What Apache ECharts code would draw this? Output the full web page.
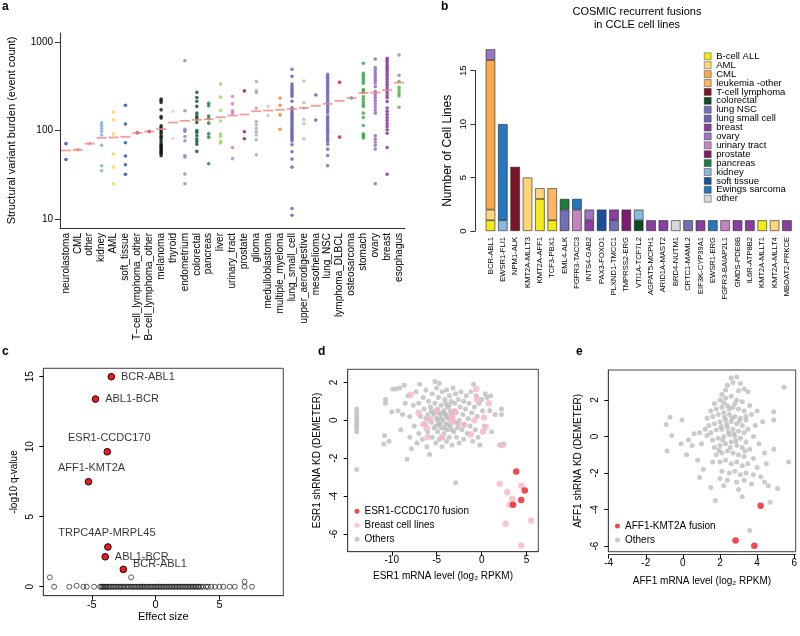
<!DOCTYPE html>
<html><head><meta charset="utf-8">
<script src="https://cdn.jsdelivr.net/npm/echarts@6/dist/echarts.min.js"></script>
<style>html,body{margin:0;padding:0;background:#fff}#wrap{position:relative;width:800px;height:636px}.layer{position:absolute;left:0;top:0;width:800px;height:636px}</style>
</head><body><div id="wrap"><div class="layer" id="pa"></div><div class="layer" id="pb"></div><div class="layer" id="pc"></div><div class="layer" id="pc2"></div><div class="layer" id="pd"></div><div class="layer" id="pe"></div></div>
<script>
const FONT = '"Liberation Sans", Arial, Helvetica, sans-serif';

// ---------- Panel a data ----------
const tissues = ['neurolastoma','CML','other','kidney','AML','soft_tissue','T\u2212cell_lymphoma_other','B\u2212cell_lymphoma_other','melanoma','thyroid','endometrium','colorectal','pancreas','liver','urinary_tract','prostate','glioma','medulloblastoma','multiple_myeloma','lung_small_cell','upper_aerodigestive','mesothelioma','lung_NSC','lymphoma_DLBCL','osteosarcoma','stomach','ovary','breast','esophagus'];
const svNeuro = [71,47];
const svCML = [60.5];
const svOther = [71];
const svKidney = [122,114,106,98,89,68,40,35];
const svAML = [161,132,91,54,38.5,25];
const svSoft = [193,118,72.6,51.4,41,31.9];
const svTcell = [94];
const svBcell = [97.4];
const svMelanoma = [227,218,207,171,144,138,113,108,102,97,93,87,84,80,75,70.8,68,66,64,61.7,60,58,56,54.6,51.8];
const svThyroid = [165,81];
const svEndo = [615,167,103,100,97.4,85.6,76.4,51.8,50,32.2,25];
const svColorectal = [270,236,214,187,157,146,140,134,123,100,95,87,80,75,70,58];
const svPancreas = [203,190,146,136,121,91.7,84,42];
const svLiver = [336,238,168,128,91,85.6,75,72];
const svUrinary = [242,200,167,157,64,48];
const svProstate = [280,96.6,80.5];
const svGlioma = [357,282,268,179,126,116,106,97.4,89,78.5,53];
const svMedullo = [187,147.5];
const svMyeloma = [233,193,150,103];
const svLungSmall = [492,410,335,315,298,282,268,255,242,214,180,170,160,152,145,138,132,126,120,114,108,103,98,93,88,84,80,76,69,57.4,47.5,38.5,13.1,11];
const svUpperAero = [363,207,179,133,119,80.5];
const svMeso = [252,131];
const svLungNSC = [431,410,390,370,350,332,315,298,282,268,255,242,230,218,207,196,186,176,167,158,145,138,132,126,120,114,108,103,98,93,88,83,79,75,70,61.5,52,40];
const svDLBCL = [351,84];
const svOsteo = [233];
const svStomach = [574,443,420,400,380,360,342,290,280,270,242,225,210,198,187,157,140,114,92,88,85,82];
const svOvary = [643,514,480,450,420,395,370,345,313,276,255,236,218,200,185,170,157,87,80,74,68,61.6,25];
const svBreast = [655,620,585,550,520,490,460,432,405,380,355,332,310,290,270,252,235,212,179,165,152,140,130,120,111,102,93,64,32];
const svEsoph = [713,421,357,308,290,272,258,246,183];
const svBurden = [svNeuro,svCML,svOther,svKidney,svAML,svSoft,svTcell,svBcell,svMelanoma,svThyroid,svEndo,svColorectal,svPancreas,svLiver,svUrinary,svProstate,svGlioma,svMedullo,svMyeloma,svLungSmall,svUpperAero,svMeso,svLungNSC,svDLBCL,svOsteo,svStomach,svOvary,svBreast,svEsoph];
const medianBurden = [59.4,60.5,71,82.6,83.4,84.8,94,97.4,103.5,123,128.5,132,134,141,147.6,151.6,165,168,171,175.5,180,190,200,216,233,266,268,287,347];
const burdenTicks = [10,100,1000];

// ---------- Panel b data ----------
const fusions = ['BCR-ABL1','EWSR1-FLI1','NPM1-ALK','KMT2A-MLLT3','KMT2A-AFF1','TCF3-PBX1','EML4-ALK','FGFR3-TACC3','INTS4-GAB2','PAX3-FOXO1','PLXND1-TMCC1','TMPRSS2-ERG','VTI1A-TCF7L2','AGPAT5-MCPH1','ARID1A-MAST2','BRD4-NUTM1','CRTC1-MAML2','EIF3K-CYP39A1','EWSR1-ERG','FGFR3-BAIAP2L1','GMDS-PDE8B','IL6R-ATP8B2','KMT2A-MLLT1','KMT2A-MLLT4','MBOAT2-PRKCE'];
const fusionTissues = ['B-cell ALL','AML','CML','leukemia -other','T-cell lymphoma','colorectal','lung NSC','lung small cell','breast','ovary','urinary tract','prostate','pancreas','kidney','soft tissue','Ewings sarcoma','other'];
const fusionComposition = [
  [['B-cell ALL',1],['AML',1],['CML',14],['ovary',1]],
  [['kidney',1],['Ewings sarcoma',9]],
  [['T-cell lymphoma',6]],
  [['AML',5]],
  [['B-cell ALL',3],['AML',1]],
  [['B-cell ALL',1],['leukemia -other',3]],
  [['lung NSC',2],['pancreas',1]],
  [['urinary tract',2],['Ewings sarcoma',1]],
  [['breast',1],['ovary',1]],
  [['soft tissue',2]],
  [['lung NSC',1],['breast',1]],
  [['prostate',2]],
  [['colorectal',1],['kidney',1]],
  [['breast',1]],
  [['breast',1]],
  [['other',1]],
  [['lung NSC',1]],
  [['breast',1]],
  [['Ewings sarcoma',1]],
  [['urinary tract',1]],
  [['breast',1]],
  [['breast',1]],
  [['B-cell ALL',1]],
  [['AML',1]],
  [['breast',1]]
];
const countTicks = [0,5,10,15];

// ---------- Panel c data ----------
const cFusionNames = ['BCR-ABL1','ABL1-BCR','ESR1-CCDC170','AFF1-KMT2A','TRPC4AP-MRPL45','ABL1-BCR','BCR-ABL1'];
const cFusionEffect = [-3.47,-4.71,-3.79,-5.26,-3.74,-3.95,-2.53];
const cFusionQ = [15.0,13.4,9.64,7.5,2.84,2.14,1.24];
const cOtherEffect = [-8.29,-7.95,-6.76,-6.19,-5.66,-5.4,-4.82,-4.35,-4.25,-4.15,-4.05,-3.95,-3.85,-3.75,-3.6,-3.5,-3.35,-3.25,-3.1,-3.0,-2.85,-2.75,-2.6,-2.5,-2.35,-2.2,-2.1,-1.95,-1.92,-1.85,-1.7,-1.6,-1.45,-1.35,-1.2,-1.1,-0.95,-0.85,-0.7,-0.6,-0.45,-0.35,-0.2,-0.1,0.05,0.15,0.3,0.4,0.55,0.65,0.8,0.9,1.05,1.15,1.3,1.4,1.55,1.65,1.8,1.9,2.05,2.15,2.3,2.4,2.55,2.65,2.8,2.9,3.05,3.15,3.3,3.4,3.55,3.7,3.95,4.1,4.35,4.65,5.0,5.3,5.8,6.2,6.97,6.97,7.55];
const cOtherQ = [0.67,0,0,0.07,0,0,0,0,0,0,0,0,0,0,0,0,0,0,0,0,0,0,0,0,0,0,0,0,0.67,0,0,0,0,0,0,0,0,0,0,0,0,0,0,0,0,0,0,0,0,0,0,0,0,0,0,0,0,0,0,0,0,0,0,0,0,0,0,0,0,0,0,0,0,0,0,0,0,0,0,0,0,0,0.36,0,0];

// ---------- Panel d data ----------
const dFusion = [[3.85,-2.7],[4.8,-3.7],[4.4,-4.2],[3.5,-4.45]];
const dBreast = [[-7.9,1.35],[-0.6,1.65],[-0.5,1.1],[0.8,0.9],[-7.0,0.4],[-5.0,0.5],[-3.0,0.45],[-3.3,0.2],[-5.7,0.05],[-3.3,0.05],[-3.2,-0.05],[-6.5,-0.2],[-6.1,-0.4],[-2.0,-0.25],[-0.8,0],[0.25,0.15],[0.45,-0.35],[0.15,-0.6],[-6.0,-0.9],[-4.4,-0.9],[-1.2,-0.75],[2.3,-1.3],[2.0,-3.35],[2.85,-3.8],[4.4,-3.45],[3.4,-4.15],[3.1,-4.45],[2.65,-5.45],[5.5,-5.3],[4.4,-6.6]];
const dOthers = [[-13.9,0.6],[-13.9,0.4],[-13.9,0.2],[-13.9,0.05],[-13.9,-0.1],[-13.9,-0.25],[-13.9,-0.4],[-13.9,-0.6],[-13.9,-2.6],
[-10.9,-1.25],[-10.8,-0.8],[-10.7,1.1],[-10.7,0.9],[-10.3,-1.1],[-10.0,0.45],[-9.9,1.65],[-9.5,1.65],[-9.1,1.7],[-8.6,1.85],[-8.3,-2.05],[-9.3,0.5],[-9.0,-0.5],[-8.8,0.3],[-8.5,0.9],[-8.2,1.3],[-8.0,0.2],[-8.0,-0.9],[-7.8,-1.5],[-7.6,0.8],[-7.5,-0.3],[-7.3,1.5],[-7.2,-1.2],[-7.0,0.9],[-7.0,-0.7],[-6.9,1.9],[-6.8,0.2],[-6.6,-1.0],[-6.5,1.2],[-6.4,0.6],[-6.3,-0.2],[-6.2,1.6],[-6.1,-1.4],[-6.0,0.3],[-6.0,-0.6],[-5.9,1.0],[-5.8,-1.8],[-5.7,0.7],[-5.6,-0.1],[-5.5,1.4],[-5.5,-0.9],[-5.4,0.4],[-5.3,-0.4],[-5.2,2.05],[-5.2,0.9],[-5.1,-1.2],[-5.0,0.1],[-5.0,1.7],[-4.9,-0.6],[-4.9,0.6],[-4.8,1.2],[-4.8,-0.2],[-4.7,1.95],[-4.7,-1.0],[-4.6,0.3],[-4.5,0.8],[-4.5,-0.4],[-4.4,1.5],[-4.4,-1.4],[-4.3,0.0],[-4.2,0.5],[-4.2,-0.7],[-4.1,1.1],[-4.0,-0.2],[-4.0,0.3],[-3.9,1.6],[-3.9,-1.1],[-3.8,0.7],[-3.8,-0.5],[-3.7,0.1],[-3.6,1.3],[-3.6,-0.9],[-3.5,0.5],[-3.5,-0.3],[-3.4,1.0],[-3.3,-1.3],[-3.2,0.2],[-3.2,1.7],[-3.1,-0.6],[-3.0,0.9],[-3.0,-0.1],[-2.9,1.4],[-2.9,-3.3],[-2.8,-0.9],[-2.8,0.4],[-2.7,-0.4],[-2.6,1.1],[-2.5,0.0],[-2.5,-1.2],[-2.4,0.7],[-2.3,1.5],[-2.2,-0.5],[-2.1,0.3],[-2.0,1.0],[-2.0,-1.0],[-1.9,-0.2],[-1.8,0.6],[-1.7,1.3],[-1.6,-0.7],[-1.5,0.1],[-1.4,0.9],[-1.3,-0.3],[-1.2,1.5],[-1.1,0.4],[-1.0,-1.1],[-0.9,1.9],[-0.8,0.7],[-0.7,-0.5],[-0.6,1.3],[-0.5,0.2],[-0.4,-0.9],[-0.3,0.9],[-0.2,-1.3],[0.0,1.1],[0.1,0.5],[0.3,-0.3],[0.4,1.4],[0.6,1.2],[0.9,0.5],[1.0,1.3],[1.1,-0.6],[1.5,0.3],[2.2,0.6],[2.2,0.3],[2.5,-1.25],[2.0,-1.3],
[-5.8,0.0],[-5.3,0.3],[-4.9,0.0],[-4.6,-0.2],[-4.3,0.4],[-4.1,-0.4],[-3.9,0.2],[-3.7,-0.2],[-3.4,0.3],[-3.3,-0.5],[-4.5,0.1],[-4.8,0.4],[-5.1,-0.3],[-4.0,0.9],[-3.6,0.8],[-4.4,-0.9],[-5.6,0.5],[-3.0,0.5],[-2.6,-0.2],[-6.2,0.1]];

// ---------- Panel e data ----------
const eFusion = [[4.19,-3.8],[2.84,-5.7],[3.85,-5.99]];
const eOthers = [[-0.9,0.65],[-0.7,1.05],[-0.05,0.9],[-0.6,0.05],[-0.85,-0.8],[-0.1,-0.4],[0.3,-0.2],[0.6,0.15],[0.2,-1.0],[0.9,-2.25],[1.5,-2.8],[1.75,-3.5],[2.2,-2.7],[3.6,-5.15],[5.45,2.7],[5.7,-1.4],[4.9,1.35],[4.9,0.9],[4.9,-0.7],[4.6,-2.7],[4.7,-3.6],[5.1,-2.85],[3.2,-3.3],[0.9,0.2],[1.0,-0.4],[0.5,-0.5],[1.2,0.4],[1.3,0.05],[0.8,-1.3],[1.1,-1.8],
[2.6,3.2],[2.9,3.25],[3.1,2.9],[2.7,2.95],[3.3,2.6],[2.4,2.8],[2.3,2.55],[3.5,2.45],[2.1,2.3],[3.0,2.5],
[1.7,1.8],[2.0,2.0],[2.3,2.1],[2.6,2.2],[2.9,2.0],[3.2,1.9],[3.6,1.7],[4.0,1.4],
[1.5,1.4],[1.8,1.5],[2.1,1.6],[2.4,1.7],[2.7,1.6],[3.0,1.5],[3.3,1.4],[3.7,1.2],[4.3,0.8],
[1.3,1.0],[1.6,1.1],[1.9,1.2],[2.2,1.3],[2.5,1.2],[2.8,1.1],[3.1,1.0],[3.4,0.9],[3.9,0.6],
[1.4,0.6],[1.7,0.7],[2.0,0.8],[2.3,0.9],[2.6,0.8],[2.9,0.7],[3.2,0.6],[3.5,0.4],
[1.5,0.2],[1.8,0.35],[2.1,0.4],[2.4,0.5],[2.7,0.4],[3.0,0.3],[3.3,0.2],[3.8,0.0],
[1.6,-0.2],[1.9,-0.1],[2.2,0.0],[2.5,0.1],[2.8,0.0],[3.1,-0.1],[3.4,-0.3],[4.1,-0.4],
[1.7,-0.6],[2.0,-0.5],[2.3,-0.4],[2.6,-0.3],[2.9,-0.5],[3.2,-0.6],[3.6,-0.7],[4.4,-0.9],
[1.8,-1.0],[2.1,-0.9],[2.4,-0.8],[2.7,-0.9],[3.0,-1.0],[3.3,-1.1],[3.8,-1.2],
[1.6,-1.4],[2.0,-1.4],[2.3,-1.3],[2.6,-1.5],[2.9,-1.4],[3.2,-1.6],[3.5,-1.5],[4.0,-1.7],[4.5,-1.5],
[2.1,-1.9],[2.5,-2.0],[2.8,-1.9],[3.1,-2.1],[3.4,-2.0],[3.8,-2.1],[4.2,-2.2],
[2.4,-2.4],[2.9,-2.5],[3.3,-2.4],[3.0,-2.9],[2.0,-2.3],[3.7,-2.6],[4.4,-2.5],
[2.45,0.25],[2.35,0.65],[2.75,0.15],[2.15,-0.2],[2.55,-0.6],[2.65,1.0],[2.25,1.05],[2.85,-0.25],[2.05,0.55],[3.05,0.85],[1.95,-0.75],[3.35,-0.8],[2.5,1.5],[2.2,1.85],[2.8,1.8],[3.4,1.1]];

// ---------- styles ----------
const tissueColors = ['#1a4e9b','#f7931e','#d9a5a5','#74aee0','#fbd046','#18509e','#96172e','#a4152f','#111111','#f9c0d3','#7e8bcc','#0b4f28','#197a3c','#a2d05a','#c47bc4','#7b1a70','#a9a9a9','#c3c2e6','#f47f20','#5d5bb0','#95d38a','#55529f','#6765b8','#d7141f','#2f6fb0','#35a84a','#8e65b5','#7f2d9a','#55b554'];
const fusionTissueColors = ['#f2ea1a','#fdd57a','#f7a94b','#fbb468','#7b1428','#0f4a24','#7170b5','#6a64b4','#8a3fa0','#9a76c0','#c586c0','#7c1e6e','#1f7c40','#88b8de','#1b4f9a','#2578c0','#d8d8d8'];

function boxedAxis(min, max, ticks, isY, o) {
  return {
    type:'value', min:min, max:max,
    axisLine:{show:true, onZero:false, lineStyle:{color:'#444', width:1}},
    splitLine:{show:false},
    axisTick:{show:true, customValues:ticks, length:4, lineStyle:{color:'#000'}},
    axisLabel:{customValues:ticks, fontSize:o.labelSize, margin:o.margin, rotate:isY?90:0, color:'#000', fontFamily:FONT},
    offset:o.offset || 0,
    name:o.name, nameLocation:'middle', nameGap:o.nameGap,
    nameTextStyle:{fontSize:o.nameSize, color:'#000', fontFamily:FONT}
  };
}
function hiddenAxis(min, max) {
  return {type:'value', min:min, max:max, show:false, axisLine:{show:false, onZero:false}, axisTick:{show:false}, axisLabel:{show:false}, splitLine:{show:false}};
}
function letter(ch, x, y) { return {type:'text', left:x, top:y, style:{text:ch, font:'bold 12px '+FONT, fill:'#000'}}; }

// ---------- Panel a ----------
const aDots = [];
tissues.forEach((t,i) => svBurden[i].forEach(v => aDots.push({value:[i, Math.log10(v)], itemStyle:{color:tissueColors[i]}})));
const aMedians = medianBurden.map((v,i) => [i, Math.log10(v)]);
const optA = {
  animation:false, backgroundColor:'transparent',
  graphic:[letter('a', 2, 1)],
  grid:{left:60, top:33, width:345, height:195},
  xAxis:{type:'category', data:tissues, boundaryGap:true,
     axisLine:{lineStyle:{color:'#333', width:1}}, axisTick:{alignWithLabel:true, interval:0, length:4, lineStyle:{color:'#333'}},
     axisLabel:{interval:0, rotate:90, fontSize:10, margin:5, color:'#000', fontFamily:FONT}},
  yAxis:{type:'value', min:Math.log10(7.9), max:Math.log10(1264),
     axisLine:{show:true, onZero:false, lineStyle:{color:'#333'}}, splitLine:{show:false},
     axisTick:{show:true, customValues:burdenTicks.map(Math.log10), length:5, lineStyle:{color:'#333'}},
     axisLabel:{customValues:burdenTicks.map(Math.log10), fontSize:10, margin:7, color:'#000', fontFamily:FONT, formatter:v => String(Math.round(Math.pow(10, v)))},
     name:'Structural variant burden (event count)', nameLocation:'middle', nameGap:43, nameTextStyle:{fontSize:11, color:'#000', fontFamily:FONT}},
  series:[
    {type:'scatter', symbolSize:3.6, data:aDots, emphasis:{disabled:true}},
    {type:'scatter', symbol:'rect', symbolSize:[10,1.8], itemStyle:{color:'#f3837f'}, data:aMedians, emphasis:{disabled:true}}
  ]
};

// ---------- Panel b ----------
const bSeries = fusionTissues.map((t,k) => ({
  type:'bar', name:t, stack:'fus', barWidth:9.5, clip:false,
  itemStyle:{color:fusionTissueColors[k], borderColor:'#222', borderWidth:0.6},
  emphasis:{disabled:true},
  data: fusions.map((f,j) => { const e = fusionComposition[j].find(p => p[0] === t); return e ? e[1] : null; })
}));
const optB = {
  animation:false, backgroundColor:'transparent',
  graphic:[letter('b', 441, 1),
    {type:'text', x:637, y:5, style:{text:'COSMIC recurrent fusions\nin CCLE cell lines', font:'11px '+FONT, fill:'#000', textAlign:'center', lineHeight:13.5}}],
  grid:{left:484.3, top:70.7, width:308.8, height:160.3},
  legend:{data:fusionTissues, orient:'vertical', left:704, top:51.3, padding:0, icon:'rect', itemWidth:7, itemHeight:7, itemGap:-1.1, selectedMode:false,
     itemStyle:{borderWidth:0.4}, textStyle:{fontSize:9.5, lineHeight:9, color:'#000', fontFamily:FONT}},
  xAxis:{type:'category', data:fusions, boundaryGap:true, axisLine:{show:false}, axisTick:{show:false},
     axisLabel:{interval:0, rotate:90, fontSize:7.6, margin:6, color:'#000', fontFamily:FONT}},
  yAxis:{type:'value', min:0, max:15, offset:9,
     axisLine:{show:true, onZero:false, lineStyle:{color:'#333'}}, splitLine:{show:false},
     axisTick:{show:true, customValues:countTicks, length:5, lineStyle:{color:'#333'}},
     axisLabel:{customValues:countTicks, fontSize:9.5, margin:7, rotate:90, color:'#000', fontFamily:FONT},
     name:'Number of Cell Lines', nameLocation:'middle', nameGap:22, nameTextStyle:{fontSize:12, color:'#000', fontFamily:FONT}},
  series:bSeries
};

// ---------- Panel c (frame layer + marks layer) ----------
const cLabelCfg = [
  {position:'right', distance:6},
  {position:'right', distance:6},
  {position:'top', distance:5, offset:[2,0]},
  {position:'top', distance:5, offset:[3,0]},
  {position:'top', distance:5, offset:[-1,0]},
  {position:'right', distance:6},
  {position:'right', distance:6, offset:[0,-5]}
];
const cFusionPoints = cFusionNames.map((n,i) => [cFusionEffect[i], cFusionQ[i]]);
const cFusionData = cFusionNames.map((n,i) => ({
  name:n, value:[cFusionEffect[i], cFusionQ[i]],
  label:Object.assign({show:true, formatter:n, fontSize:11, color:'#000', fontFamily:FONT}, cLabelCfg[i])
}));
const cOtherData = cOtherEffect.map((x,i) => [x, cOtherQ[i]]);
const cGrid = {left:43.3, top:368.3, width:240, height:227.4};
const optC = {
  animation:false, backgroundColor:'transparent',
  graphic:[letter('c', 2, 346)],
  grid:Object.assign({show:true, borderColor:'#444', borderWidth:1}, cGrid),
  xAxis:boxedAxis(-8.8, 10, [-5,0,5], false, {labelSize:11, margin:4, name:'Effect size', nameGap:15, nameSize:11}),
  yAxis:boxedAxis(-0.64, 15.6, [0,5,10,15], true, {labelSize:10, margin:8, name:'-log10 q-value', nameGap:24, nameSize:10}),
  series:[
    {type:'scatter', symbolSize:6.5, itemStyle:{color:'#e8141c', borderColor:'#000', borderWidth:0.8}, data:cFusionPoints, emphasis:{disabled:true}}
  ]
};
const optC2 = {
  animation:false, backgroundColor:'transparent',
  grid:Object.assign({show:false}, cGrid),
  xAxis:hiddenAxis(-8.8, 10),
  yAxis:hiddenAxis(-0.64, 15.6),
  series:[
    {type:'scatter', symbolSize:5, itemStyle:{color:'rgba(0,0,0,0)', borderColor:'#000', borderWidth:0.8}, data:cOtherData, emphasis:{disabled:true}},
    {type:'scatter', symbolSize:6.5, itemStyle:{color:'#e8141c', borderColor:'#000', borderWidth:0.8}, data:cFusionData, emphasis:{disabled:true}}
  ]
};

// ---------- Panel d ----------
const optD = {
  animation:false, backgroundColor:'transparent',
  graphic:[letter('d', 318, 346)],
  grid:{left:347.7, top:369.3, width:190.6, height:182.4, show:true, borderColor:'#444', borderWidth:1},
  legend:{data:['ESR1-CCDC170 fusion','Breast cell lines','Others'], orient:'vertical', left:354.5, top:504.8, padding:0, icon:'circle', itemWidth:5, itemHeight:5, itemGap:1, selectedMode:false,
     textStyle:{fontSize:10, lineHeight:13, color:'#000', fontFamily:FONT}},
  xAxis:boxedAxis(-14.9, 6.3, [-10,-5,0,5], false, {labelSize:10, margin:4, name:'ESR1 mRNA level (log\u2082 RPKM)', nameGap:20, nameSize:10}),
  yAxis:boxedAxis(-6.93, 2.69, [-6,-4,-2,0,2], true, {labelSize:10, margin:8, name:'ESR1 shRNA KD (DEMETER)', nameGap:25, nameSize:10}),
  series:[
    {type:'scatter', name:'Others', symbolSize:5, itemStyle:{color:'#bdbdbd'}, data:dOthers, emphasis:{disabled:true}},
    {type:'scatter', name:'Breast cell lines', symbolSize:6.5, itemStyle:{color:'#f7b6c4'}, data:dBreast, emphasis:{disabled:true}},
    {type:'scatter', name:'ESR1-CCDC170 fusion', symbolSize:6.5, itemStyle:{color:'#ee1c25'}, data:dFusion, emphasis:{disabled:true}}
  ]
};

// ---------- Panel e ----------
const optE = {
  animation:false, backgroundColor:'transparent',
  graphic:[letter('e', 576, 346)],
  grid:{left:608.3, top:370, width:190, height:181.7, show:true, borderColor:'#444', borderWidth:1},
  legend:{data:['AFF1-KMT2A fusion','Others'], orient:'vertical', left:615, top:519.5, padding:0, icon:'circle', itemWidth:5, itemHeight:5, itemGap:1, selectedMode:false,
     textStyle:{fontSize:10, lineHeight:13, color:'#000', fontFamily:FONT}},
  xAxis:boxedAxis(-4.02, 6.08, [-4,-2,0,2,4,6], false, {labelSize:10, margin:4, offset:3, name:'AFF1 mRNA level (log\u2082 RPKM)', nameGap:22, nameSize:10}),
  yAxis:boxedAxis(-6.31, 3.64, [-6,-4,-2,0,2], true, {labelSize:10, margin:8, name:'AFF1 shRNA KD (DEMETER)', nameGap:25, nameSize:10}),
  series:[
    {type:'scatter', name:'Others', symbolSize:5, itemStyle:{color:'#bdbdbd'}, data:eOthers, emphasis:{disabled:true}},
    {type:'scatter', name:'AFF1-KMT2A fusion', symbolSize:6.5, itemStyle:{color:'#ee1c25'}, data:eFusion, emphasis:{disabled:true}}
  ]
};

[['pa',optA],['pb',optB],['pc',optC],['pc2',optC2],['pd',optD],['pe',optE]].forEach(([id,opt]) => {
  echarts.init(document.getElementById(id), null, {renderer:'canvas'}).setOption(opt);
});
</script></body></html>
